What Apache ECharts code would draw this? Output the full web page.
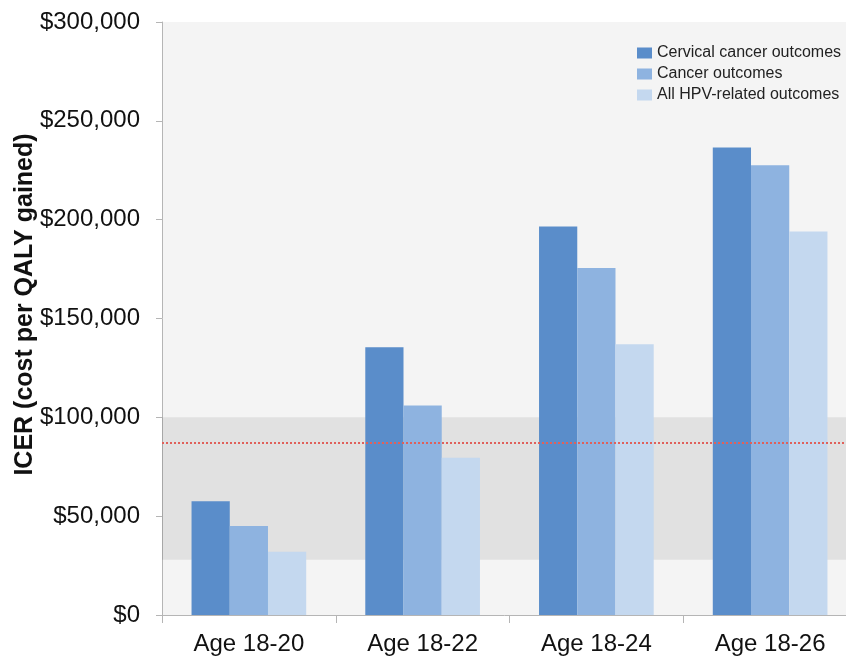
<!DOCTYPE html>
<html>
<head>
<meta charset="utf-8">
<script src="https://cdn.jsdelivr.net/npm/echarts@6/dist/echarts.min.js"></script>
<style>
  html, body { margin: 0; padding: 0; background: #fff; }
  #chart { width: 846px; height: 658px; }
</style>
</head>
<body>
<div id="chart"></div>
<script>
// data
const categories = ['Age 18-20', 'Age 18-22', 'Age 18-24', 'Age 18-26'];
const seriesNames = ['Cervical cancer outcomes', 'Cancer outcomes', 'All HPV-related outcomes'];
const cervical = [57500, 135500, 196500, 236500];
const cancer = [45000, 106000, 175500, 227500];
const allHpv = [32000, 79500, 137000, 194000];
const bandRange = [28000, 100000];   // shaded range
const refLine = 87000;               // dotted threshold

const colors = ['#5a8dca', '#8eb3e0', '#c4d8ef'];

const chart = echarts.init(document.getElementById('chart'));

const barSeries = [cervical, cancer, allHpv].map((d, i) => ({
  name: seriesNames[i],
  type: 'bar',
  data: d,
  barGap: '0%',
  barCategoryGap: '34%',
  itemStyle: { color: colors[i] },
  z: 2
}));

const option = {
  backgroundColor: '#fff',
  animation: false,
  textStyle: { fontFamily: 'Liberation Sans, Arial, sans-serif' },
  grid: {
    left: 162, right: -11, top: 22, bottom: 43,
    outerBoundsMode: 'none',
    show: true, backgroundColor: '#f4f4f4', borderWidth: 0
  },
  legend: {
    orient: 'vertical',
    left: 632, top: 40,
    itemWidth: 15, itemHeight: 11, itemGap: 5,
    icon: 'rect',
    textStyle: { fontSize: 16, color: '#222' },
    data: seriesNames
  },
  xAxis: {
    type: 'category',
    data: categories,
    axisLine: { lineStyle: { color: '#b5b5b5' } },
    axisTick: { show: true, length: 8, lineStyle: { color: '#b5b5b5' } },
    axisLabel: { fontSize: 24, color: '#111', margin: 17 }
  },
  yAxis: {
    type: 'value',
    min: 0, max: 300000, interval: 50000,
    name: 'ICER (cost per QALY gained)',
    nameLocation: 'middle',
    nameGap: 124,
    nameMoveOverlap: false,
    nameTextStyle: { fontSize: 25, fontWeight: 'bold', color: '#111', padding: [0, 0, 0, 28] },
    axisLine: { show: true, lineStyle: { color: '#b5b5b5' } },
    axisTick: { show: true, length: 6, lineStyle: { color: '#b5b5b5' } },
    splitLine: { show: false },
    axisLabel: {
      fontSize: 24, color: '#111', margin: 22,
      formatter: v => '$' + v.toLocaleString('en-US')
    }
  },
  series: barSeries.concat([{
    type: 'line',
    data: [],
    z: 5,
    silent: true,
    markArea: {
      silent: true,
      itemStyle: { color: 'rgba(0,0,0,0.075)' },
      data: [[{ yAxis: bandRange[0] }, { yAxis: bandRange[1] }]]
    },
    markLine: {
      silent: true,
      symbol: 'none',
      label: { show: false },
      lineStyle: { color: '#e0605a', type: 'dotted', width: 2 },
      data: [{ yAxis: refLine }]
    }
  }])
};

chart.setOption(option);
</script>
</body>
</html>
